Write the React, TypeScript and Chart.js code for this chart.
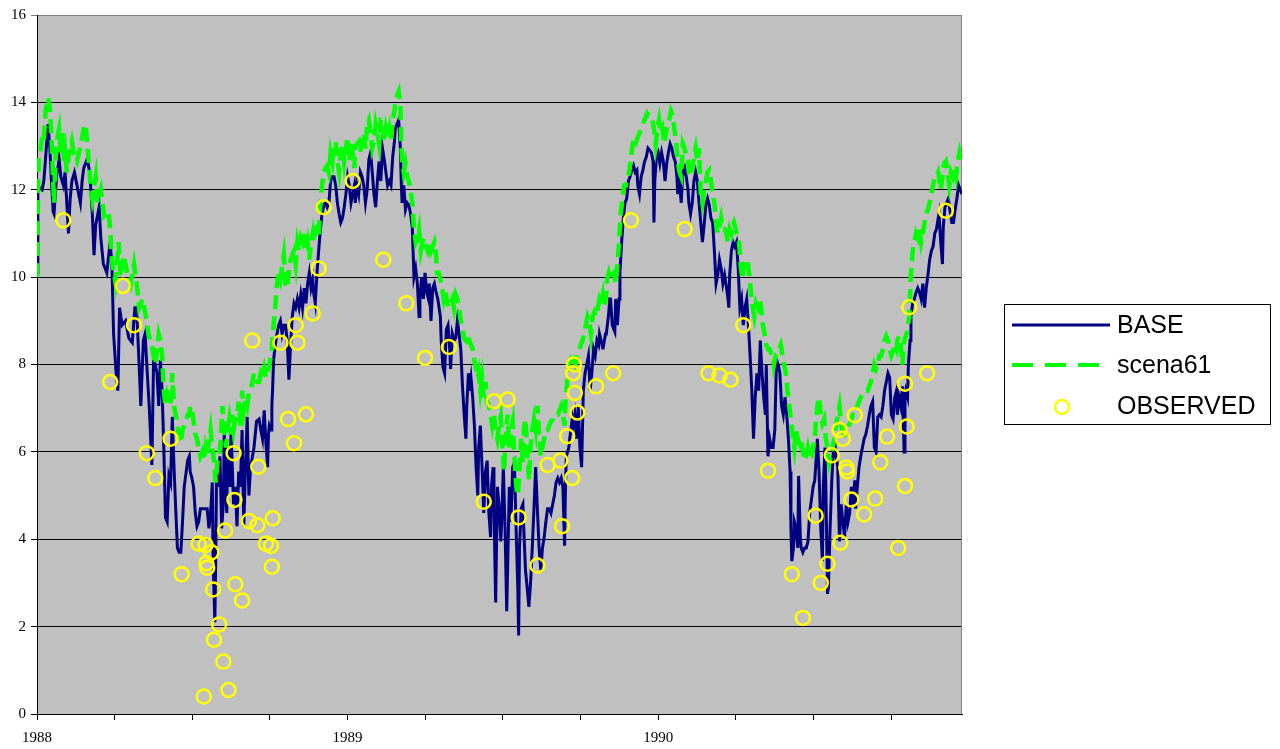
import React, { useEffect, useRef } from "react";
import { Chart, registerables } from "chart.js";

Chart.register(...registerables);

// x values are days since 1 Jan 1988
const YEAR_LABELS = ["1988", "1989", "1990"];
const QUARTER_DAYS = 91.25;
const X_MAX = 1087;
const Y_MIN = 0;
const Y_MAX = 16;
const Y_STEP = 2;

const BASE: [number, number][] = [
  [0,10.1],[1,12.0],[3,12.05],[6,12.0],[8,12.2],[10,12.7],[13,13.5],[15,13.0],[17,12.2],[19,11.5],[20,11.45],[23,12.3],[26,12.7],[28,12.3],[31,12.1],[33,12.4],[35,11.7],[37,11.0],[39,11.8],[41,12.2],[44,12.4],[47,12.1],[51,11.7],[53,12.2],[55,12.5],[59,12.7],[62,12.4],[65,11.45],[67,10.5],[69,11.2],[73,11.6],[75,10.9],[78,10.3],[82,10.1],[86,10.8],[88,10.3],[90,8.7],[93,7.8],[95,7.4],[97,9.3],[100,8.9],[104,9.0],[108,8.6],[112,8.5],[115,9.3],[117,9.3],[120,8.0],[122,7.05],[125,8.55],[127,8.7],[129,8.0],[132,7.0],[135,5.7],
  [137,8.1],[139,8.0],[141,7.8],[143,7.05],[145,8.1],[147,7.4],[149,6.1],[151,4.5],[153,4.4],[155,5.45],[157,5.3],[159,6.8],[161,5.65],[163,4.7],[165,3.8],[167,3.7],[169,3.7],[171,4.4],[173,5.2],[177,5.8],[179,5.9],[180,5.55],[182,5.4],[184,5.2],[186,4.6],[188,4.3],[190,4.4],[192,4.7],[196,4.7],[200,4.7],[202,4.25],[204,4.6],[206,5.3],[207,3.5],[209,2.1],[210,3.5],[211,5.6],[213,5.2],[215,5.9],[217,4.25],[219,4.8],[220,6.4],[223,4.6],[224,6.1],[227,5.2],[228,6.5],[231,4.8],[233,5.2],[235,4.3],[237,5.55],[239,5.2],[241,6.5],[243,4.3],[245,5.65],[247,6.8],[249,5.0],[251,5.65],[255,6.1],[258,6.7],[261,6.75],[263,6.5],[265,6.3],[267,6.95],[269,6.2],
  [271,5.65],[272,6.4],[273,6.6],[275,6.5],[276,7.05],[277,7.5],[278,8.1],[280,8.45],[282,8.7],[284,8.9],[286,9.0],[288,8.7],[290,8.9],[292,8.9],[294,8.55],[296,7.65],[298,8.45],[300,9.1],[302,9.4],[304,9.3],[306,9.5],[308,9.3],[310,9.6],[312,9.3],[314,9.75],[316,9.4],[318,9.85],[320,10.1],[322,9.75],[324,9.95],[325,9.65],[327,9.4],[329,10.1],[331,10.6],[333,11.1],[335,11.45],[337,11.65],[339,11.7],[341,11.6],[343,11.7],[345,12.2],[347,12.3],[349,12.3],[351,12.1],[353,11.7],[355,11.45],[357,11.25],[359,11.35],[361,11.6],[363,11.9],[365,12.3],[367,12.1],[369,11.7],[371,11.9],[373,12.1],[374,11.7],[376,12.1],[378,11.9],[380,12.4],[382,12.3],[384,12.1],[386,11.7],[388,12.0],[390,12.7],[392,12.85],[394,12.4],[396,11.9],[398,11.6],[400,12.2],[402,12.65],
  [404,12.2],[406,12.95],[408,12.7],[410,12.4],[412,12.1],[414,12.2],[416,12.1],[418,12.75],[420,13.1],[421,13.4],[423,13.5],[425,13.6],[427,12.95],[428,12.2],[429,11.7],[431,12.1],[433,11.55],[435,11.7],[437,11.65],[439,11.45],[441,11.15],[443,10.0],[445,10.2],[447,9.85],[449,9.1],[450,9.5],[452,10.0],[454,9.5],[456,10.1],[458,9.65],[460,9.5],[461,9.85],[463,9.0],[465,9.75],[467,9.85],[469,9.65],[471,9.5],[474,9.1],[475,8.55],[477,7.95],[479,7.8],[481,8.8],[483,8.9],[485,8.35],[486,7.9],[488,8.7],[490,8.55],[492,8.6],[494,9.0],[496,8.7],[498,8.35],[500,7.5],[502,6.85],[504,6.3],[505,7.05],[507,7.8],[508,7.4],[510,7.7],[512,7.25],[514,6.6],[516,5.65],[518,5.0],[519,6.1],[521,6.6],[523,5.65],[525,4.6],[527,5.55],[529,5.8],[531,4.6],[533,4.05],[534,5.2],[536,5.65],[537,4.7],[539,2.55],
  [541,5.2],[543,4.75],[545,3.95],[546,4.4],[548,5.65],[550,4.25],[552,2.35],[553,3.3],[555,5.2],[557,4.4],[559,5.65],[561,5.75],[563,4.25],[565,2.9],[566,1.8],[567,3.8],[569,4.7],[571,4.8],[572,4.25],[574,3.3],[576,2.9],[578,2.45],[580,3.0],[582,3.8],[584,4.7],[586,5.65],[588,4.7],[590,3.8],[592,3.3],[594,3.8],[596,4.05],[598,4.4],[600,4.7],[602,4.7],[604,4.6],[606,4.8],[608,5.0],[610,5.3],[612,5.4],[614,5.3],[616,5.4],[618,5.2],[620,3.85],[621,5.2],[622,5.9],[625,6.1],[626,6.3],[629,6.75],[630,6.6],[632,6.85],[634,6.3],[636,7.05],[638,6.1],[640,5.65],[642,7.4],[644,7.8],[646,8.0],[648,8.2],[650,7.4],[652,7.8],[654,8.35],[656,8.2],[658,8.55],[660,8.45],[661,8.7],[664,8.45],[665,8.35],[668,8.7],[669,8.7],[672,9.2],[673,9.5],
  [674,9.5],[676,8.9],[678,8.8],[679,8.75],[680,9.5],[682,8.9],[684,9.5],[685,10.1],[687,10.8],[689,11.35],[691,11.7],[693,11.8],[695,12.2],[697,12.3],[699,12.45],[701,12.55],[703,12.4],[705,12.45],[706,12.1],[708,11.9],[710,12.3],[712,12.45],[714,12.65],[716,12.75],[718,12.95],[720,12.9],[722,12.85],[724,12.65],[725,11.25],[726,12.2],[728,12.75],[730,12.85],[732,12.6],[734,12.85],[736,12.65],[738,12.2],[740,12.6],[742,12.85],[744,13.05],[746,12.95],[748,12.75],[750,12.65],[752,12.3],[753,11.9],[755,12.2],[757,11.7],[759,12.4],[761,12.5],[763,12.3],[765,12.0],[766,11.7],[768,11.45],[770,11.7],[772,12.2],[774,12.4],[776,12.2],[778,11.7],[780,11.25],[782,10.8],[784,11.2],[786,11.65],[788,11.8],[790,11.65],[792,11.35],[794,11.25],[796,10.6],[798,9.85],[800,10.05],[802,10.4],[804,10.2],[806,9.85],[808,10.05],
  [810,9.8],[812,9.5],[813,9.3],[814,10.05],[816,10.6],[818,10.8],[820,10.7],[822,10.8],[824,10.2],[826,9.3],[828,9.5],[830,8.9],[832,9.3],[834,9.5],[836,8.9],[838,8.2],[840,7.4],[842,6.3],[844,7.25],[846,7.8],[848,7.4],[850,8.55],[852,7.8],[854,7.25],[856,6.85],[857,8.0],[859,5.9],[861,6.3],[863,6.1],[865,6.1],[867,6.5],[869,8.1],[871,8.0],[873,7.8],[875,7.05],[877,6.85],[879,7.25],[881,6.85],[883,6.3],[885,5.55],[886,4.25],[887,3.5],[889,3.8],[890,4.4],[892,4.25],[894,3.8],[895,5.45],[897,4.05],[898,3.8],[900,3.7],[902,3.8],[904,3.8],[906,3.95],[908,4.6],[910,4.9],[912,5.2],[914,5.35],[915,5.65],[917,6.3],[919,5.55],[921,4.25],[923,3.5],[924,5.2],[926,6.1],[927,5.2],[929,2.75],[930,2.9],[932,4.25],[934,5.35],[936,6.1],[937,6.3],[939,5.9],[941,5.65],[943,3.95],
  [945,4.8],[947,4.4],[949,4.05],[951,4.8],[953,4.4],[955,4.6],[957,5.2],[959,4.8],[961,5.35],[962,4.7],[964,5.2],[966,5.65],[968,5.9],[970,6.1],[972,6.3],[974,6.4],[976,6.6],[978,6.85],[980,7.05],[982,7.15],[984,6.1],[986,6.0],[988,6.8],[990,6.85],[992,6.8],[994,7.05],[996,7.4],[998,7.6],[1000,7.8],[1002,7.7],[1004,6.85],[1006,6.75],[1008,7.25],[1010,7.4],[1011,6.85],[1013,7.25],[1015,7.05],[1017,7.5],[1019,6.0],[1020,7.25],[1021,7.4],[1023,7.25],[1024,8.0],[1026,8.55],[1027,9.1],[1029,9.4],[1031,9.5],[1033,9.65],[1035,9.75],[1037,9.65],[1039,9.5],[1041,9.85],[1043,9.3],[1045,9.75],[1047,10.05],[1049,10.4],[1051,10.6],[1053,10.7],[1055,11.0],[1057,11.1],[1059,11.35],[1060,11.45],[1062,10.8],[1064,10.3],[1065,11.15],[1067,11.6],[1069,11.7],[1071,11.8],[1073,11.5],[1075,11.25],[1077,11.25],[1079,11.55],[1081,11.8],[1083,12.1],[1085,12.0],[1087,11.9],
];

const SCENA61: [number, number][] = [
  [0,10.0],[1,11.7],[2,12.7],[4,12.9],[6,13.2],[8,13.1],[10,13.8],[13,14.1],[15,13.9],[17,13.2],[18,12.7],[20,11.7],[22,12.8],[24,13.2],[26,13.4],[28,12.85],[30,13.3],[31,12.65],[33,12.9],[35,12.4],[37,12.75],[39,12.9],[41,13.1],[43,12.85],[47,12.65],[51,13.0],[55,13.4],[57,13.5],[59,13.1],[61,12.6],[63,12.1],[65,11.8],[69,12.3],[71,11.7],[75,12.0],[79,11.4],[84,11.5],[86,11.1],[88,10.4],[92,9.9],[96,10.8],[98,10.0],[102,10.5],[106,10.1],[110,9.85],[114,10.3],[118,9.7],[120,9.3],[124,9.5],[128,9.1],[131,8.7],[135,8.45],
  [137,8.2],[139,8.0],[141,8.35],[143,8.7],[145,8.55],[147,8.2],[149,7.4],[151,7.05],[153,7.3],[155,7.15],[157,7.05],[159,7.8],[161,7.05],[163,6.85],[165,6.6],[167,6.3],[169,6.2],[171,6.5],[173,6.6],[175,6.7],[177,6.85],[179,6.85],[180,7.05],[182,6.95],[184,6.7],[186,6.4],[188,6.3],[190,6.1],[192,5.9],[194,6.0],[196,5.8],[198,6.1],[200,5.9],[202,6.2],[204,6.5],[206,6.1],[208,5.8],[210,5.3],[212,5.75],[214,5.9],[216,6.3],[218,7.05],[220,6.5],[222,6.1],[224,6.5],[226,6.75],[228,6.4],[229,6.85],[231,6.5],[233,6.75],[235,6.75],[237,7.15],[239,6.6],[241,7.4],[243,6.95],[245,7.2],[247,7.05],[249,7.35],[251,7.4],[253,7.6],[255,7.8],[257,7.7],[259,7.6],[261,7.6],[263,7.8],[265,7.7],[267,7.9],
  [269,7.7],[271,7.8],[273,8.0],[275,8.2],[276,8.35],[278,8.9],[280,9.3],[282,9.85],[284,10.1],[286,9.95],[288,10.25],[290,10.5],[292,9.85],[294,9.75],[296,10.1],[298,10.4],[300,10.5],[302,10.6],[304,10.3],[306,10.8],[308,10.6],[310,10.9],[312,10.8],[314,11.0],[316,10.6],[318,10.8],[320,10.4],[322,10.8],[324,11.0],[325,10.8],[327,11.1],[329,11.15],[331,10.95],[333,11.7],[335,12.1],[337,12.4],[339,12.5],[341,12.55],[343,12.4],[345,12.85],[347,12.65],[349,13.05],[351,13.1],[353,12.65],[355,12.4],[357,12.85],[359,13.05],[361,12.65],[363,12.95],[365,13.2],[367,12.65],[369,13.1],[371,12.85],[373,12.5],[374,12.95],[376,13.05],[378,13.1],[380,12.85],[382,13.1],[384,13.3],[386,12.95],[388,13.5],[390,13.6],[392,13.3],[394,12.95],[396,13.1],[398,13.5],[400,13.3],[402,13.05],
  [404,13.6],[406,13.6],[408,13.1],[410,13.4],[412,13.2],[414,13.4],[416,13.1],[418,13.6],[420,13.8],[421,14.0],[423,14.15],[425,14.25],[427,13.95],[428,13.1],[429,12.65],[431,12.4],[433,12.6],[435,12.3],[437,12.2],[439,12.0],[441,11.7],[443,11.1],[445,10.8],[447,10.9],[449,11.1],[451,10.6],[453,10.8],[455,10.9],[457,10.7],[459,10.6],[461,10.8],[463,10.6],[465,10.7],[467,10.8],[469,10.5],[470,10.1],[472,10.1],[474,9.95],[476,9.75],[478,9.5],[480,9.7],[482,9.4],[484,9.3],[486,9.4],[488,9.5],[490,9.3],[492,9.6],[494,9.5],[496,9.3],[498,9.0],[500,8.8],[502,8.6],[504,8.55],[506,8.7],[508,8.55],[510,8.45],[512,8.35],[514,8.1],[516,7.9],[518,7.7],[519,7.8],[521,7.4],[523,7.7],[525,7.25],[527,7.6],[529,7.15],[531,7.05],[533,6.85],[535,6.6],[537,6.85],
  [539,6.5],[541,6.3],[543,6.6],[545,6.8],[547,6.1],[549,5.55],[551,6.4],[553,6.85],[555,6.1],[557,6.5],[559,6.7],[561,5.9],[563,5.25],[565,5.0],[567,5.55],[569,6.3],[571,5.75],[572,6.5],[574,6.75],[576,6.1],[578,5.35],[580,6.1],[582,6.5],[584,6.75],[586,6.5],[588,7.05],[590,6.4],[592,5.9],[594,6.1],[596,6.3],[598,6.5],[600,6.5],[602,6.6],[604,6.7],[606,6.75],[608,6.85],[610,6.85],[612,6.85],[614,6.95],[616,7.05],[618,6.85],[620,6.6],[621,7.15],[623,7.6],[625,8.0],[627,8.1],[629,8.0],[631,8.1],[633,8.0],[635,8.2],[637,8.3],[639,8.45],[641,8.55],[643,8.7],[645,8.9],[647,9.1],[649,9.0],[651,8.7],[653,9.1],[655,9.2],[657,9.1],[659,9.3],[661,9.5],[663,9.4],[665,9.6],[667,9.3],[669,9.65],[670,9.95],[672,10.1],
  [674,9.95],[676,10.05],[678,10.1],[680,9.85],[682,10.25],[684,10.8],[686,11.45],[688,11.8],[690,12.1],[692,12.1],[694,12.3],[696,12.4],[698,12.75],[700,13.05],[702,13.2],[704,13.1],[706,13.2],[708,13.3],[710,13.4],[712,13.5],[714,13.6],[716,13.7],[717,13.75],[719,13.7],[721,13.7],[723,13.6],[725,13.4],[727,13.05],[729,13.4],[731,13.6],[733,13.3],[735,13.4],[737,13.05],[739,13.3],[741,13.5],[743,13.6],[745,13.8],[747,13.7],[749,13.4],[751,13.1],[753,12.65],[755,12.4],[757,12.3],[759,13.05],[761,12.95],[763,12.75],[765,12.65],[766,12.4],[768,12.3],[770,12.5],[772,12.75],[774,12.95],[776,12.65],[778,12.95],[780,11.9],[782,11.7],[784,12.0],[786,12.2],[788,12.4],[790,12.45],[792,12.2],[794,11.9],[796,11.7],[798,11.25],[800,11.0],[802,11.15],[804,11.35],[806,11.1],[808,11.1],
  [810,11.0],[812,10.8],[814,11.1],[816,11.0],[817,11.15],[819,11.25],[821,11.1],[823,10.9],[825,10.8],[827,10.25],[829,9.95],[831,10.3],[833,10.4],[835,10.4],[837,10.05],[839,9.65],[841,9.3],[843,9.1],[845,9.4],[847,9.3],[849,9.5],[851,9.3],[853,8.9],[855,8.7],[857,8.45],[859,8.35],[861,8.35],[863,8.25],[865,8.2],[866,8.0],[868,8.2],[870,8.25],[872,8.35],[874,8.45],[876,8.2],[878,8.0],[880,7.8],[882,7.4],[884,7.05],[886,6.75],[888,6.4],[890,6.1],[892,6.5],[894,6.3],[896,6.2],[898,6.3],[900,6.0],[902,5.8],[904,5.9],[906,6.1],[908,5.9],[910,5.9],[912,6.1],[914,6.3],[915,6.6],[917,7.05],[919,7.25],[921,6.85],[923,6.65],[925,6.75],[927,6.3],[929,6.1],[931,5.75],[933,5.9],[935,6.1],[937,6.3],[939,6.6],[941,6.85],[943,7.05],
  [945,6.65],[947,6.45],[949,6.4],[951,6.45],[953,6.55],[955,6.65],[957,6.75],[959,6.85],[961,6.85],[962,6.95],[964,7.05],[966,7.15],[968,7.25],[970,7.3],[972,7.3],[974,7.4],[976,7.4],[978,7.5],[980,7.6],[982,7.8],[984,8.0],[986,7.9],[988,8.0],[990,8.2],[992,8.2],[994,8.35],[996,8.55],[998,8.65],[1000,8.55],[1002,8.35],[1004,8.2],[1006,8.3],[1008,8.45],[1010,8.35],[1011,8.55],[1013,8.65],[1015,8.45],[1017,8.0],[1019,8.55],[1021,8.65],[1023,8.8],[1025,9.1],[1027,10.05],[1029,10.6],[1031,10.8],[1033,11.0],[1035,10.9],[1037,11.1],[1039,10.8],[1041,11.0],[1043,11.25],[1045,11.45],[1047,11.55],[1049,11.7],[1051,11.9],[1053,12.1],[1055,12.3],[1057,12.3],[1059,12.4],[1060,12.3],[1062,12.0],[1064,12.3],[1066,12.6],[1068,12.65],[1070,12.4],[1072,12.1],[1074,12.4],[1076,12.3],[1078,12.5],[1080,12.3],[1082,12.65],[1084,12.85],[1086,12.65],
];

const OBSERVED: [number, number][] = [
  [31,11.3],[86,7.6],[101,9.8],[114,8.9],[129,5.97],[139,5.4],[157,6.3],[170,3.2],[190,3.9],[198,3.87],[199,3.45],[200,3.35],[205,3.7],[207,2.85],[208,1.7],[214,2.05],[219,1.2],[196,0.4],[225,0.55],[221,4.2],[231,5.97],[232,4.9],[233,2.97],[241,2.6],[249,4.42],[253,8.55],[259,4.32],[260,5.66],[269,3.9],[275,3.85],[276,3.37],[277,4.48],[286,8.5],[295,6.75],[302,6.2],[304,8.9],[306,8.5],[316,6.86],[324,9.17],[331,10.2],[337,11.6],[371,12.2],[407,10.4],[434,9.4],[456,8.15],[484,8.4],[525,4.86],[537,7.16],[553,7.2],[566,4.5],[588,3.4],[600,5.7],[615,5.8],[617,4.3],[623,6.36],[629,5.4],[631,8.0],[630,7.8],[632,7.35],[635,6.9],[657,7.5],[677,7.8],[698,11.3],[761,11.1],[789,7.8],[802,7.75],[815,7.65],[830,8.9],[859,5.57],[887,3.2],[900,2.2],[915,4.54],[921,3.0],[929,3.44],[934,5.92],[944,3.92],[943,6.5],[947,6.3],[951,5.64],[952,5.55],[957,4.91],[961,6.84],[972,4.57],[985,4.93],[991,5.76],[999,6.35],[1012,3.8],[1020,7.56],[1020,5.22],[1022,6.58],[1025,9.31],[1046,7.8],[1068,11.52],
];

const SERIES_NAMES = ["BASE", "scena61", "OBSERVED"];

const SERIF = "'Liberation Serif', 'Times New Roman', serif";
const SANS = "'Liberation Sans', Arial, sans-serif";

export default function App() {
  const ref = useRef<HTMLCanvasElement>(null);

  useEffect(() => {
    const canvas = ref.current;
    if (!canvas) return;

    const framePlugin = {
      id: "frame",
      beforeDraw(chart: any) {
        const { ctx, chartArea } = chart;
        ctx.save();
        ctx.fillStyle = "#FFFFFF";
        ctx.fillRect(0, 0, chart.width, chart.height);
        ctx.fillStyle = "#C0C0C0";
        ctx.fillRect(chartArea.left, chartArea.top, chartArea.right - chartArea.left, chartArea.bottom - chartArea.top);
        ctx.restore();
      },
      beforeDatasetsDraw(chart: any) {
        const { ctx, chartArea } = chart;
        ctx.save();
        ctx.strokeStyle = "#808080";
        ctx.lineWidth = 1;
        ctx.beginPath();
        ctx.moveTo(chartArea.right - 0.5, chartArea.top);
        ctx.lineTo(chartArea.right - 0.5, chartArea.bottom);
        ctx.stroke();
        ctx.restore();
      },
      afterDraw(chart: any) {
        const { ctx } = chart;
        ctx.save();
        // legend box
        ctx.fillStyle = "#FFFFFF";
        ctx.fillRect(1005, 305, 266, 120);
        ctx.strokeStyle = "#000000";
        ctx.lineWidth = 1;
        ctx.strokeRect(1004.5, 304.5, 266, 120);
        // BASE sample
        ctx.strokeStyle = "#000080";
        ctx.lineWidth = 3;
        ctx.beginPath();
        ctx.moveTo(1012, 325);
        ctx.lineTo(1110, 325);
        ctx.stroke();
        // scena61 sample
        ctx.strokeStyle = "#00FF00";
        ctx.lineWidth = 4;
        ctx.setLineDash([21, 12]);
        ctx.beginPath();
        ctx.moveTo(1012, 365);
        ctx.lineTo(1102, 365);
        ctx.stroke();
        ctx.setLineDash([]);
        // OBSERVED sample
        ctx.strokeStyle = "#FFFF00";
        ctx.lineWidth = 2.5;
        ctx.beginPath();
        ctx.arc(1062, 407, 7, 0, Math.PI * 2);
        ctx.stroke();
        // texts
        ctx.fillStyle = "#000000";
        ctx.font = `25px ${SANS}`;
        ctx.textBaseline = "alphabetic";
        ctx.textAlign = "left";
        ctx.fillText(SERIES_NAMES[0], 1117, 333);
        ctx.fillText(SERIES_NAMES[1], 1117, 373);
        ctx.fillText(SERIES_NAMES[2], 1117, 414);
        ctx.restore();
      },
    };

    const chart = new Chart(canvas, {
      type: "line",
      data: {
        datasets: [
          {
            label: SERIES_NAMES[0],
            data: BASE.map(([x, y]) => ({ x, y })),
            borderColor: "#000080",
            borderWidth: 3,
            pointRadius: 0,
            tension: 0,
            fill: false,
            order: 3,
          },
          {
            label: SERIES_NAMES[1],
            data: SCENA61.map(([x, y]) => ({ x, y })),
            borderColor: "#00FF00",
            borderWidth: 4.5,
            borderDash: [14, 7],
            pointRadius: 0,
            tension: 0,
            fill: false,
            order: 2,
          },
          {
            label: SERIES_NAMES[2],
            data: OBSERVED.map(([x, y]) => ({ x, y })),
            showLine: false,
            pointRadius: 7,
            pointBorderWidth: 2.5,
            pointBorderColor: "#FFFF00",
            pointBackgroundColor: "rgba(0,0,0,0)",
            borderColor: "#FFFF00",
            backgroundColor: "rgba(0,0,0,0)",
            pointStyle: "circle",
            order: 1,
          },
        ],
      },
      options: {
        responsive: false,
        animation: false,
        devicePixelRatio: 1,
        layout: { padding: { left: 0, top: 15, right: 318, bottom: 0 } },
        plugins: { legend: { display: false }, tooltip: { enabled: false } },
        scales: {
          x: {
            type: "linear",
            min: 0,
            max: X_MAX,
            afterBuildTicks: (scale: any) => {
              const t: any[] = [];
              for (let v = 0; v <= X_MAX; v += QUARTER_DAYS) t.push({ value: v });
              scale.ticks = t;
            },
            afterFit: (scale: any) => {
              scale.height = 35;
            },
            grid: { drawOnChartArea: false, drawTicks: true, tickLength: 6, color: "#000000" },
            border: { color: "#000000", width: 1 },
            ticks: {
              autoSkip: false,
              maxRotation: 0,
              padding: 9,
              color: "#000000",
              font: { family: SERIF, size: 15 },
              callback: (_v: any, i: number) => (i % 4 === 0 ? YEAR_LABELS[i / 4] ?? "" : ""),
            },
          },
          y: {
            type: "linear",
            min: Y_MIN,
            max: Y_MAX,
            afterFit: (scale: any) => {
              scale.width = 37;
            },
            grid: {
              color: (c: any) => (c.tick && c.tick.value === Y_MAX ? "#808080" : "#000000"),
              tickLength: 6,
            },
            border: { color: "#000000", width: 1 },
            ticks: {
              stepSize: Y_STEP,
              padding: 5,
              color: "#000000",
              font: { family: SERIF, size: 15 },
            },
          },
        },
      },
      plugins: [framePlugin],
    });

    return () => chart.destroy();
  }, []);

  return (
    <div style={{ position: "fixed", left: 0, top: 0, width: 1280, height: 749, background: "#FFFFFF" }}>
      <canvas ref={ref} width={1280} height={749} style={{ width: 1280, height: 749, display: "block" }} />
    </div>
  );
}
